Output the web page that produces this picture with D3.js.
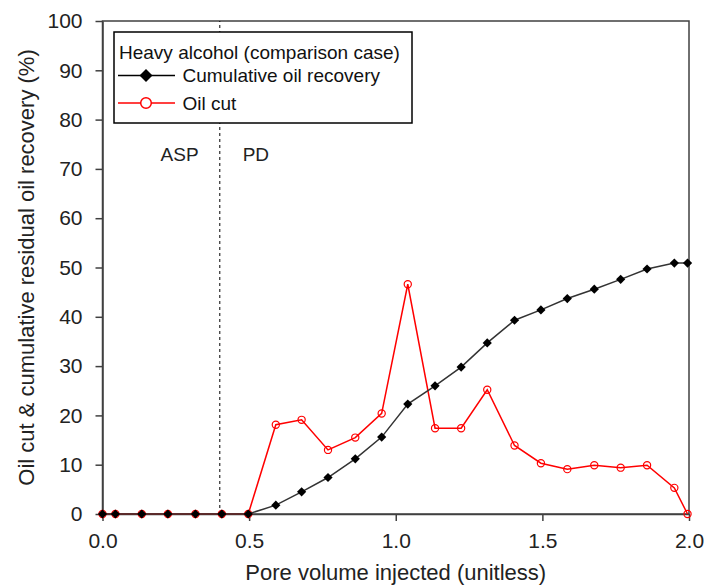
<!DOCTYPE html>
<html>
<head>
<meta charset="utf-8">
<script src="https://cdn.jsdelivr.net/npm/d3@7"></script>
<style>
  html, body { margin: 0; padding: 0; background: #fff; }
  svg { display: block; font-family: "Liberation Sans", Arial, sans-serif; }
</style>
</head>
<body>
<svg id="chart" width="705" height="587"></svg>
<script>
// ---- Data ----
const poreVolume = [0, 0.044, 0.134, 0.223, 0.317, 0.407, 0.497, 0.591, 0.679, 0.769, 0.862, 0.952,
                    1.041, 1.134, 1.223, 1.312, 1.405, 1.495, 1.585, 1.677, 1.767, 1.857, 1.95, 1.995];
const cumulativeRecovery = [0, 0, 0, 0, 0, 0, 0, 1.8, 4.5, 7.4, 11.2, 15.6,
                            22.3, 26.0, 29.8, 34.7, 39.3, 41.4, 43.7, 45.6, 47.6, 49.7, 50.9, 50.9];
const oilCut = [0, 0, 0, 0, 0, 0, 0, 18.1, 19.1, 13.0, 15.5, 20.4,
                46.6, 17.4, 17.4, 25.2, 13.9, 10.3, 9.1, 9.9, 9.4, 9.9, 5.3, 0];
const xTicks = [0, 0.5, 1.0, 1.5, 2.0];
const yTicks = [0, 10, 20, 30, 40, 50, 60, 70, 80, 90, 100];
const legendTitle = "Heavy alcohol (comparison case)";
const seriesNames = ["Cumulative oil recovery", "Oil cut"];
const xTitle = "Pore volume injected (unitless)";
const yTitle = "Oil cut & cumulative residual oil recovery (%)";
const stageBoundary = 0.4;
const stageLabels = ["ASP", "PD"];

// ---- Layout ----
const W = 705, H = 587;
const margin = { left: 102.5, right: 16, top: 21, bottom: 73 };
const svg = d3.select("#chart");
const x = d3.scaleLinear().domain([0, 2]).range([margin.left, W - margin.right]);
const y = d3.scaleLinear().domain([0, 100]).range([H - margin.bottom, margin.top]);
const axisColor = "#404040";

// frame (top & right)
svg.append("rect")
  .attr("x", x(0)).attr("y", y(100))
  .attr("width", x(2) - x(0)).attr("height", y(0) - y(100))
  .attr("fill", "none").attr("stroke", axisColor).attr("stroke-width", 1.5);

// axes
const xAxis = svg.append("g")
  .attr("transform", `translate(0,${y(0)})`)
  .call(d3.axisBottom(x).tickValues(xTicks).tickFormat(d3.format(".1f")).tickSize(7).tickPadding(12).tickSizeOuter(0));
const yAxis = svg.append("g")
  .attr("transform", `translate(${x(0)},0)`)
  .call(d3.axisLeft(y).tickValues(yTicks).tickSize(7).tickPadding(13).tickSizeOuter(0));
[xAxis, yAxis].forEach(g => {
  g.select(".domain").attr("stroke", axisColor).attr("stroke-width", 1.5);
  g.selectAll(".tick line").attr("stroke", axisColor).attr("stroke-width", 1.5);
  g.selectAll(".tick text").attr("fill", "#222").style("font-size", "21px")
    .style("font-family", '"Liberation Sans", Arial, sans-serif');
});

// axis titles
svg.append("text")
  .attr("x", (x(0) + x(2)) / 2).attr("y", 580)
  .attr("text-anchor", "middle").attr("fill", "#222")
  .style("font-size", "22px").text(xTitle);
svg.append("text")
  .attr("transform", `translate(34,${(y(0) + y(100)) / 2}) rotate(-90)`)
  .attr("text-anchor", "middle").attr("fill", "#222")
  .style("font-size", "22px").text(yTitle);

// stage boundary
svg.append("line")
  .attr("x1", x(stageBoundary)).attr("x2", x(stageBoundary))
  .attr("y1", y(0)).attr("y2", y(100))
  .attr("stroke", "#000").attr("stroke-width", 1).attr("stroke-dasharray", "3,3");
svg.append("text").attr("x", x(0.263)).attr("y", y(71.6))
  .attr("text-anchor", "middle").style("font-size", "19px").attr("fill", "#222").text(stageLabels[0]);
svg.append("text").attr("x", x(0.478)).attr("y", y(71.6))
  .attr("text-anchor", "start").style("font-size", "19px").attr("fill", "#222").text(stageLabels[1]);

const diamond = s => `M0,${-s}L${s},0L0,${s}L${-s},0Z`;
const line = d3.line().x(d => x(d[0])).y(d => y(d[1]));

// oil cut series (drawn first)
const ocData = poreVolume.map((p, i) => [p, oilCut[i]]);
svg.append("path").datum(ocData).attr("d", line)
  .attr("fill", "none").attr("stroke", "#ff0000").attr("stroke-width", 1.5);
svg.append("g").selectAll("circle").data(ocData).join("circle")
  .attr("cx", d => x(d[0])).attr("cy", d => y(d[1])).attr("r", 3.6)
  .attr("fill", "none").attr("stroke", "#ff0000").attr("stroke-width", 1.2);

// cumulative recovery series
const crData = poreVolume.map((p, i) => [p, cumulativeRecovery[i]]);
svg.append("path").datum(crData).attr("d", line)
  .attr("fill", "none").attr("stroke", "#333").attr("stroke-width", 1.5);
svg.append("g").selectAll("path").data(crData).join("path")
  .attr("transform", d => `translate(${x(d[0])},${y(d[1])})`)
  .attr("d", diamond(4.6)).attr("fill", "#000");

// legend
const lg = svg.append("g");
lg.append("rect").attr("x", 114).attr("y", 32).attr("width", 298).attr("height", 91)
  .attr("fill", "#fff").attr("stroke", "#000").attr("stroke-width", 1.5);
lg.append("text").attr("x", 119).attr("y", 59).style("font-size", "19px").attr("fill", "#111").text(legendTitle);
lg.append("line").attr("x1", 118).attr("x2", 175).attr("y1", 75.5).attr("y2", 75.5)
  .attr("stroke", "#000").attr("stroke-width", 1.5);
lg.append("path").attr("transform", "translate(146,75.5)").attr("d", diamond(6.5)).attr("fill", "#000");
lg.append("text").attr("x", 182.5).attr("y", 82).style("font-size", "19px").attr("fill", "#111").text(seriesNames[0]);
lg.append("line").attr("x1", 118).attr("x2", 175).attr("y1", 103).attr("y2", 103)
  .attr("stroke", "#ff0000").attr("stroke-width", 1.5);
lg.append("circle").attr("cx", 146).attr("cy", 103).attr("r", 5.3)
  .attr("fill", "#fff").attr("stroke", "#ff0000").attr("stroke-width", 1.5);
lg.append("text").attr("x", 182.5).attr("y", 110).style("font-size", "19px").attr("fill", "#111").text(seriesNames[1]);
</script>
</body>
</html>
